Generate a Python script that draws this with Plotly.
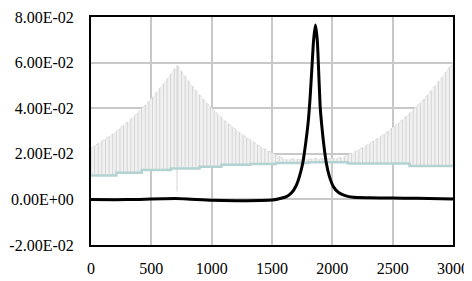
import plotly.graph_objects as go

stick_x = list(range(0, 3001, 30))
stick_top = [
    0.0225, 0.0235, 0.0244, 0.0254, 0.0265, 0.0276, 0.0287, 0.0299, 0.0312, 0.0324,
    0.0338, 0.0352, 0.0366, 0.0382, 0.0397, 0.0414, 0.0431, 0.0449, 0.0467, 0.0486,
    0.0507, 0.0527, 0.0549, 0.0572, 0.0584, 0.0561, 0.0539, 0.0518, 0.0497, 0.0477,
    0.0458, 0.0440, 0.0423, 0.0406, 0.0390, 0.0374, 0.0359, 0.0345, 0.0332, 0.0318,
    0.0306, 0.0294, 0.0282, 0.0271, 0.0260, 0.0250, 0.0240, 0.0230, 0.0221, 0.0212,
    0.0204, 0.0196, 0.0188, 0.0181, 0.0173, 0.0176, 0.0178, 0.0174, 0.0177, 0.0179,
    0.0175, 0.0178, 0.0180, 0.0176, 0.0179, 0.0177, 0.0180, 0.0178, 0.0180, 0.0182,
    0.0187, 0.0195, 0.0202, 0.0210, 0.0219, 0.0227, 0.0236, 0.0246, 0.0256, 0.0266,
    0.0276, 0.0287, 0.0299, 0.0311, 0.0323, 0.0336, 0.0349, 0.0363, 0.0378, 0.0393,
    0.0408, 0.0424, 0.0441, 0.0459, 0.0477, 0.0496, 0.0516, 0.0536, 0.0558, 0.0580,
    0.0603,
]
# Teal baseline (stepwise), same x positions
stick_base = (
    [0.0105] * 7 + [0.0117] * 7 + [0.0129] * 8 + [0.0136] * 8 + [0.0143] * 6
    + [0.0152] * 8 + [0.0155] * 7 + [0.0160] * 9 + [0.0163] * 11
    + [0.0158] * 17 + [0.0146] * 13
)
# single long stick near the envelope peak
dip_x = 713
dip_low = 0.0035
dip_top = 0.0590

# Black curve
curve_x = [0, 200, 400, 600, 700, 800, 1000, 1200, 1400, 1500, 1560, 1620, 1664, 1700,
           1727, 1755, 1780, 1800, 1815, 1830, 1845, 1860, 1875, 1890, 1900, 1915, 1927,
           1950, 1976, 2010, 2051, 2100, 2175, 2300, 2500, 2700, 2900, 3000]
curve_y = [0.0, -0.0001, 0.0, 0.0003, 0.0004, 0.0002, -0.0004, -0.0006, -0.0005, -0.0003,
           0.0003, 0.0012, 0.0030, 0.0060, 0.0100, 0.0160, 0.0250, 0.0340, 0.0440, 0.0570,
           0.0700, 0.0765, 0.0700, 0.0520, 0.0400, 0.0310, 0.0250, 0.0160, 0.0100, 0.0055,
           0.0030, 0.0018, 0.0009, 0.0007, 0.0006, 0.0005, 0.0003, 0.0002]

y_ticks = [-0.02, 0.0, 0.02, 0.04, 0.06, 0.08]
y_labels = ["-2.00E-02", "0.00E+00", "2.00E-02", "4.00E-02", "6.00E-02", "8.00E-02"]
x_ticks = [0, 500, 1000, 1500, 2000, 2500, 3000]

# build the sticks as one trace with gaps
sx, sy = [], []
for x, b, t in zip(stick_x, stick_base, stick_top):
    sx += [x, x, None]
    sy += [b, t, None]
sx += [dip_x, dip_x, None]
sy += [dip_low, dip_top, None]

fig = go.Figure()
# faint band between baseline and envelope
fig.add_trace(go.Scatter(x=stick_x, y=stick_base, mode='lines', line_shape='hv',
                         line=dict(width=0), hoverinfo='skip', showlegend=False))
fig.add_trace(go.Scatter(x=stick_x, y=stick_top, mode='lines', fill='tonexty',
                         fillcolor='#f1f1f1', line=dict(color='#dcdcdc', width=1, dash='dot'),
                         hoverinfo='skip', showlegend=False))
fig.add_trace(go.Scatter(x=sx, y=sy, mode='lines', line=dict(color='#d4d4d4', width=1),
                         hoverinfo='skip', showlegend=False))
fig.add_trace(go.Scatter(x=stick_x, y=stick_base, mode='lines', line_shape='hv',
                         line=dict(color='#b3d3d3', width=2.5), showlegend=False))
fig.add_trace(go.Scatter(x=curve_x, y=curve_y, mode='lines', line_shape='spline',
                         line=dict(color='black', width=3, smoothing=0.6), showlegend=False))

axis_font = dict(family='Times New Roman, Liberation Serif, serif', size=16, color='black')
# the page body adds an 8px offset, so the figure is sized to compensate
fig.update_layout(
    width=464, height=273,
    margin=dict(l=83, r=19, t=9, b=36),
    plot_bgcolor='white', paper_bgcolor='white',
    xaxis=dict(range=[0, 3000], tickvals=x_ticks, showgrid=True, gridcolor='#c8c8c8',
               gridwidth=1.5, showline=True, linecolor='black', linewidth=2, mirror=True,
               zeroline=False, ticks='', tickfont=axis_font, ticklabelstandoff=8,
               automargin=False),
    yaxis=dict(range=[-0.02, 0.08], tickvals=y_ticks, ticktext=y_labels, showgrid=True,
               gridcolor='#c8c8c8', gridwidth=1.5, showline=True, linecolor='black',
               linewidth=2, mirror=True, zeroline=False, ticks='', tickfont=axis_font,
               ticklabelstandoff=12, automargin=False),
)

fig.write_html("out.html")
